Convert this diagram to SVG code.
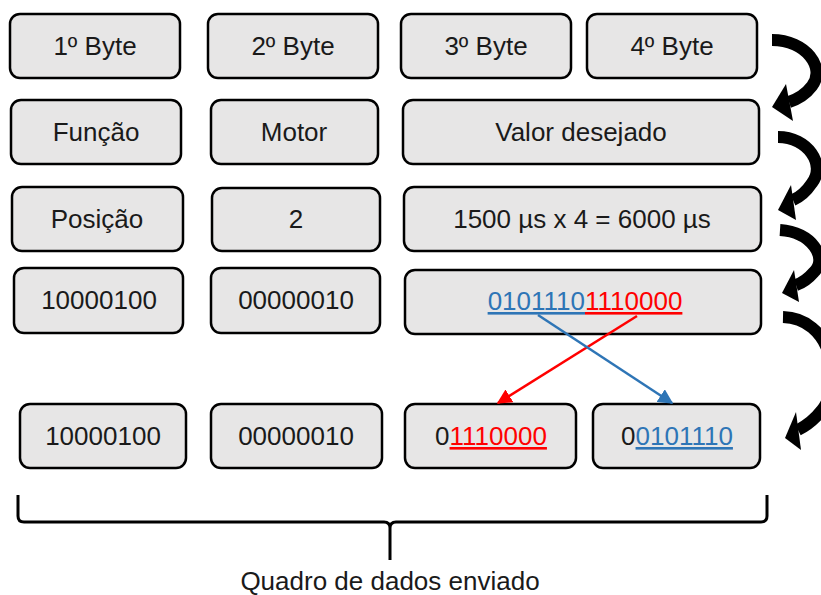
<svg xmlns="http://www.w3.org/2000/svg" width="821" height="595" viewBox="0 0 821 595">
<defs>
<style>
.box{fill:#e7e6e6;stroke:#000;stroke-width:2.5}
.t{font-family:"Liberation Sans",Arial,sans-serif;font-size:26px;fill:#1a1a1a;text-anchor:middle}
.blue{fill:#2e75b6}
.red{fill:#ff0000}
.u{text-decoration:underline}
.curve{fill:none;stroke:#000;stroke-width:12}
.head{fill:#000}
</style>
<marker id="ar" viewBox="0 0 10 10" refX="9" refY="5" markerWidth="6" markerHeight="6" orient="auto" markerUnits="strokeWidth"><path d="M0,0 L10,5 L0,10 z" fill="#ff0000"/></marker>
<marker id="ab" viewBox="0 0 10 10" refX="9" refY="5" markerWidth="6" markerHeight="6" orient="auto" markerUnits="strokeWidth"><path d="M0,0 L10,5 L0,10 z" fill="#2e75b6"/></marker>
</defs>
<rect width="821" height="595" fill="#fff"/>

<g id="b1"><rect class="box" x="10" y="14" width="170" height="64" rx="10"/><text class="t" x="95" y="55">1º Byte</text></g>
<g id="b2"><rect class="box" x="208" y="14" width="170" height="64" rx="10"/><text class="t" x="293" y="55">2º Byte</text></g>
<g id="b3"><rect class="box" x="401" y="14" width="170" height="64" rx="10"/><text class="t" x="486" y="55">3º Byte</text></g>
<g id="b4"><rect class="box" x="587" y="14" width="170" height="64" rx="10"/><text class="t" x="672" y="55">4º Byte</text></g>

<g id="funcao"><rect class="box" x="11" y="100" width="170" height="64" rx="10"/><text class="t" x="96" y="141">Função</text></g>
<g id="motor"><rect class="box" x="211" y="100" width="167" height="64" rx="10"/><text class="t" x="294" y="141">Motor</text></g>
<g id="valor"><rect class="box" x="403" y="100" width="356" height="64" rx="10"/><text class="t" x="581" y="141">Valor desejado</text></g>

<g id="posicao"><rect class="box" x="12" y="187" width="171" height="64" rx="10"/><text class="t" x="97" y="228">Posição</text></g>
<g id="dois"><rect class="box" x="212" y="188" width="168" height="63" rx="10"/><text class="t" x="296" y="228">2</text></g>
<g id="calc"><rect class="box" x="404" y="187" width="357" height="64" rx="10"/><text class="t" x="582" y="228">1500 µs x 4 = 6000 µs</text></g>

<g id="bin1"><rect class="box" x="14" y="268" width="169" height="65" rx="10"/><text class="t" x="99" y="309">10000100</text></g>
<g id="bin2"><rect class="box" x="211" y="268" width="169" height="65" rx="10"/><text class="t" x="296" y="309">00000010</text></g>
<g id="bin3"><rect class="box" x="405" y="270" width="356" height="64" rx="10"/><text class="t" x="585" y="310"><tspan class="blue u">0101110</tspan><tspan class="red u">1110000</tspan></text></g>

<g id="out1"><rect class="box" x="20" y="404" width="166" height="64" rx="10"/><text class="t" x="103" y="445">10000100</text></g>
<g id="out2"><rect class="box" x="211" y="404" width="171" height="64" rx="10"/><text class="t" x="296" y="445">00000010</text></g>
<g id="out3"><rect class="box" x="405" y="404" width="171" height="64" rx="10"/><text class="t" x="491" y="445">0<tspan class="red u">1110000</tspan></text></g>
<g id="out4"><rect class="box" x="593" y="404" width="167" height="64" rx="10"/><text class="t" x="677" y="445">0<tspan class="blue u">0101110</tspan></text></g>

<g id="connectors">
<line x1="637" y1="316" x2="498" y2="403" stroke="#ff0000" stroke-width="2.5" marker-end="url(#ar)"/>
<line x1="538" y1="315" x2="672" y2="403" stroke="#2e75b6" stroke-width="2.5" marker-end="url(#ab)"/>

<path class="curve" d="M772,40 C806,40 826,68 812,86 C806,94 798,99 789,102"/>
<polygon class="head" points="772,107 786,84 793,121"/>
<path class="curve" d="M778,137 C808,137 826,165 812,183 C806,192 800,197 793,200"/>
<polygon class="head" points="778,210 791,185 796,220"/>
<path class="curve" d="M780,230 C812,232 828,258 814,272 C808,279 802,283 796,285"/>
<polygon class="head" points="782,293 794,270 799,302"/>
<path class="curve" d="M783,317 C830,318 845,380 822,410 C815,419 806,426 798,430"/>
<polygon class="head" points="785,438 796,412 801,450"/>
</g>

<g id="brace">
<path d="M18,495 L18,516 Q18,522 24,522 L384,522 Q390,522 390,528 L390,560 M390,528 Q390,522 396,522 L761,522 Q767,522 767,516 L767,495" fill="none" stroke="#000" stroke-width="3"/>
<text class="t" x="390" y="590">Quadro de dados enviado</text>
</g>
</svg>
